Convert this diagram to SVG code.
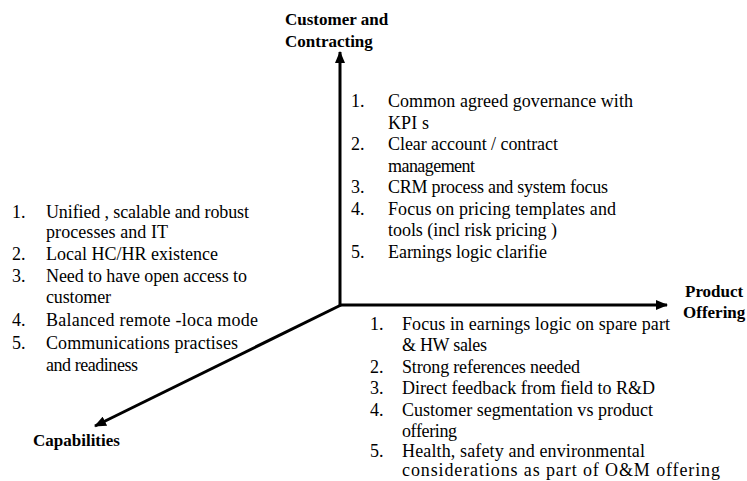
<svg xmlns="http://www.w3.org/2000/svg" width="747" height="481" viewBox="0 0 747 481">
<defs>
<marker id="ah" viewBox="0 0 12 10" refX="11" refY="5" markerWidth="4" markerHeight="3.4" orient="auto" markerUnits="strokeWidth">
<polygon points="0,0 12,5 0,10" fill="#000"/>
</marker>
<style>
text{fill:#000}
.t{font-family:'Times New Roman','Liberation Serif',serif;font-size:18px;font-weight:normal}
.b{font-family:'Liberation Serif','Times New Roman',serif;font-size:17px;font-weight:bold}
.ax{stroke:#000;stroke-width:3;fill:none;marker-end:url(#ah)}
</style>
</defs>
<rect width="747" height="481" fill="#fff"/>
<g id="connectors">
<line class="ax" x1="340" y1="306" x2="340" y2="52"/>
<line class="ax" x1="339" y1="305" x2="667" y2="305"/>
<line class="ax" x1="341" y1="305" x2="95" y2="426"/>
</g>
<g id="customer-contracting">
<text class="b" x="285" y="25">Customer and</text>
<text class="b" x="285" y="47">Contracting</text>
<text class="t" x="351" y="107">1.</text>
<text class="t" x="388" y="107" textLength="245" lengthAdjust="spacing">Common agreed governance with</text>
<text class="t" x="388" y="128.5" textLength="41" lengthAdjust="spacing">KPI s</text>
<text class="t" x="351" y="150">2.</text>
<text class="t" x="388" y="150" textLength="170" lengthAdjust="spacing">Clear account / contract</text>
<text class="t" x="388" y="171.5" textLength="87" lengthAdjust="spacing">management</text>
<text class="t" x="351" y="193">3.</text>
<text class="t" x="388" y="193" textLength="220" lengthAdjust="spacing">CRM process and system focus</text>
<text class="t" x="351" y="214.5">4.</text>
<text class="t" x="388" y="214.5" textLength="228" lengthAdjust="spacing">Focus on pricing templates and</text>
<text class="t" x="388" y="236" textLength="169" lengthAdjust="spacing">tools (incl risk pricing )</text>
<text class="t" x="351" y="257.5">5.</text>
<text class="t" x="388" y="257.5" textLength="159" lengthAdjust="spacing">Earnings logic clarifie</text>
</g>
<g id="product-offering">
<text class="b" x="685" y="297">Product</text>
<text class="b" x="683" y="318">Offering</text>
<text class="t" x="370" y="330">1.</text>
<text class="t" x="402" y="330" textLength="268" lengthAdjust="spacing">Focus in earnings logic on spare part</text>
<text class="t" x="402" y="351" textLength="85" lengthAdjust="spacing">&amp; HW sales</text>
<text class="t" x="370" y="373">2.</text>
<text class="t" x="402" y="373" textLength="178" lengthAdjust="spacing">Strong references needed</text>
<text class="t" x="370" y="394">3.</text>
<text class="t" x="402" y="394" textLength="253" lengthAdjust="spacing">Direct feedback from field to R&amp;D</text>
<text class="t" x="370" y="416">4.</text>
<text class="t" x="402" y="416" textLength="251" lengthAdjust="spacing">Customer segmentation vs product</text>
<text class="t" x="402" y="437" textLength="55" lengthAdjust="spacing">offering</text>
<text class="t" x="370" y="457">5.</text>
<text class="t" x="402" y="457" textLength="243" lengthAdjust="spacing">Health, safety and environmental</text>
<text class="t" x="402" y="476" textLength="318" lengthAdjust="spacing">considerations as part of O&amp;M offering</text>
</g>
<g id="capabilities">
<text class="b" x="33" y="446">Capabilities</text>
<text class="t" x="12" y="218">1.</text>
<text class="t" x="46" y="218" textLength="203" lengthAdjust="spacing">Unified , scalable and robust</text>
<text class="t" x="46" y="238" textLength="122" lengthAdjust="spacing">processes and IT</text>
<text class="t" x="12" y="260">2.</text>
<text class="t" x="46" y="260" textLength="172" lengthAdjust="spacing">Local HC/HR existence</text>
<text class="t" x="12" y="282">3.</text>
<text class="t" x="46" y="282" textLength="201" lengthAdjust="spacing">Need to have open access to</text>
<text class="t" x="46" y="303" textLength="65" lengthAdjust="spacing">customer</text>
<text class="t" x="12" y="326">4.</text>
<text class="t" x="46" y="326" textLength="212" lengthAdjust="spacing">Balanced remote -loca mode</text>
<text class="t" x="12" y="349">5.</text>
<text class="t" x="46" y="349" textLength="192" lengthAdjust="spacing">Communications practises</text>
<text class="t" x="46" y="371" textLength="92" lengthAdjust="spacing">and readiness</text>
</g>
</svg>
